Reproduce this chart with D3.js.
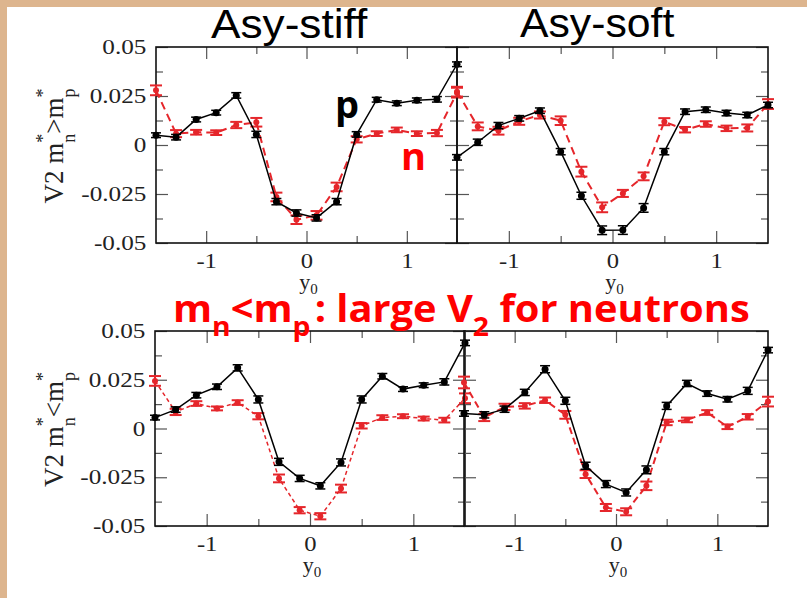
<!DOCTYPE html>
<html><head><meta charset="utf-8">
<script src="https://cdn.jsdelivr.net/npm/d3@7"></script>
<style>body{margin:0;background:#fff}svg{display:block}</style>
</head><body>
<svg id="chart" width="807" height="598"></svg>
<script>
// ---------- data ----------
const rapidity = [-1.5,-1.3,-1.1,-0.9,-0.7,-0.5,-0.3,-0.1,0.1,0.3,0.5,0.7,0.9,1.1,1.3,1.5];

// top-left: Asy-stiff, m*n > m*p
const stiffHeavyP = [0.005,0.004,0.013,0.0165,0.0253,0.0054,-0.0289,-0.0347,-0.0372,-0.0289,0.0054,0.0231,0.0213,0.0228,0.0233,0.0412];
const stiffHeavyN = [0.0279,0.0058,0.0065,0.0063,0.0102,0.0116,-0.0265,-0.0381,-0.0359,-0.0214,0.0029,0.0058,0.0077,0.0058,0.0061,0.0267];
const stiffHeavyPErr = [0.0012,0.0014,0.0012,0.0012,0.0014,0.0016,0.0016,0.0016,0.0016,0.0016,0.0014,0.0012,0.0012,0.0012,0.0014,0.0012];
const stiffHeavyNErr = [0.0025,0.0018,0.0012,0.0012,0.0016,0.0022,0.0022,0.0022,0.0022,0.0022,0.0016,0.0012,0.0012,0.0012,0.0016,0.0025];

// top-right: Asy-soft, m*n > m*p
const softHeavyP = [-0.0063,0.0014,0.0099,0.0136,0.0175,-0.0034,-0.0259,-0.0435,-0.0434,-0.0321,-0.0034,0.0170,0.0180,0.0163,0.0153,0.0204];
const softHeavyN = [0.0272,0.0095,0.0073,0.0121,0.0153,0.0124,-0.0136,-0.0318,-0.0247,-0.0160,0.0119,0.0078,0.0107,0.0085,0.0087,0.0209];
const softHeavyPErr = [0.0014,0.0016,0.0016,0.0014,0.0014,0.0016,0.0018,0.0022,0.0022,0.0022,0.0016,0.0014,0.0014,0.0014,0.0014,0.0014];
const softHeavyNErr = [0.0025,0.0020,0.0020,0.0018,0.0018,0.0022,0.0025,0.0025,0.0018,0.0020,0.0018,0.0014,0.0014,0.0014,0.0018,0.0025];

// bottom-left: Asy-stiff, m*n < m*p
const stiffLightP = [0.0056,0.0097,0.0171,0.0214,0.0311,0.0149,-0.0171,-0.0256,-0.0294,-0.0174,0.0149,0.0268,0.0202,0.0222,0.0239,0.0439];
const stiffLightN = [0.0244,0.0085,0.0128,0.0103,0.0133,0.0063,-0.0256,-0.0419,-0.0450,-0.0308,0.0014,0.0056,0.0063,0.0051,0.0043,0.0155];
const stiffLightPErr = [0.0012,0.0014,0.0014,0.0014,0.0016,0.0018,0.0018,0.0016,0.0016,0.0018,0.0018,0.0014,0.0012,0.0012,0.0016,0.0014];
const stiffLightNErr = [0.0025,0.0016,0.0012,0.0010,0.0012,0.0016,0.0020,0.0016,0.0016,0.0020,0.0014,0.0012,0.0010,0.0010,0.0012,0.0025];

// bottom-right: Asy-soft, m*n < m*p
const softLightP = [0.0077,0.0070,0.0099,0.0185,0.0304,0.0142,-0.0191,-0.0285,-0.0328,-0.0212,0.0116,0.0231,0.0179,0.0150,0.0193,0.0402];
const softLightN = [0.0236,0.0056,0.0111,0.0116,0.0145,0.0070,-0.0234,-0.0405,-0.0427,-0.0294,0.0031,0.0044,0.0082,0.0009,0.0060,0.0138];
const softLightPErr = [0.0014,0.0016,0.0016,0.0016,0.0018,0.0018,0.0018,0.0018,0.0018,0.0020,0.0018,0.0016,0.0014,0.0014,0.0018,0.0014];
const softLightNErr = [0.0030,0.0018,0.0016,0.0014,0.0014,0.0020,0.0020,0.0018,0.0018,0.0022,0.0014,0.0012,0.0012,0.0012,0.0014,0.0025];

const xMajorTicks = [-1, 0, 1];
const xMinorTicks = [-0.5, 0.5];
const xTickLabels = ["-1", "0", "1"];
const yMajorTicks = [0.05, 0.025, 0, -0.025, -0.05];
const yMinorTicks = [0.0375, 0.0125, -0.0125, -0.0375];
const yTickLabels = ["0.05", "0.025", "0", "-0.025", "-0.05"];
const columnTitles = ["Asy-stiff", "Asy-soft"];

// ---------- layout ----------
const svg = d3.select("#chart");
const tan = "#ddb58e";
const red = "#e5262b";
const serif = "Liberation Serif, Times New Roman, serif";
svg.append("rect").attr("width",807).attr("height",598).attr("fill","#fff");
svg.append("rect").attr("x",0).attr("y",0).attr("width",807).attr("height",7).attr("fill",tan);
svg.append("rect").attr("x",0).attr("y",0).attr("width",7).attr("height",598).attr("fill",tan);

const panels = [
  {x0:156, x1:457, y0:47, y1:243, p:stiffHeavyP, n:stiffHeavyN, pe:stiffHeavyPErr, ne:stiffHeavyNErr, left:true, rel:">", dash:"8,5", nw:2},
  {x0:457, x1:768, y0:47, y1:243, p:softHeavyP, n:softHeavyN, pe:softHeavyPErr, ne:softHeavyNErr, left:false, dash:"8,5", nw:2},
  {x0:155, x1:465, y0:331, y1:526, p:stiffLightP, n:stiffLightN, pe:stiffLightPErr, ne:stiffLightNErr, left:true, rel:"<", dash:"4,3", nw:1.5},
  {x0:464, x1:768, y0:331, y1:526, p:softLightP, n:softLightN, pe:softLightPErr, ne:softLightNErr, left:false, dash:"7,4", nw:2}
];

function stretch(sel, s){ sel.attr("transform", `scale(${s},1)`); }

panels.forEach(P => {
  const x = d3.scaleLinear().domain([-1.5,1.5]).range([P.x0,P.x1]);
  const y = d3.scaleLinear().domain([-0.05,0.05]).range([P.y1,P.y0]);
  const g = svg.append("g");

  const tickStyle = s => { s.select(".domain").remove(); s.selectAll(".tick line").attr("stroke","#555").attr("stroke-width",1.2); };
  const mk = (axis, tr) => g.append("g").attr("transform",tr).call(axis).call(tickStyle);

  const bot = mk(d3.axisBottom(x).tickValues(xMajorTicks).tickSizeInner(-12).tickPadding(9).tickFormat((d,i)=>xTickLabels[i]), `translate(0,${P.y1})`);
  bot.selectAll("text").attr("font-family",serif).attr("font-size",22).attr("fill","#222").call(stretch,1.12);
  mk(d3.axisBottom(x).tickValues(xMinorTicks).tickSizeInner(-7).tickFormat(""), `translate(0,${P.y1})`);
  mk(d3.axisTop(x).tickValues(xMajorTicks).tickSizeInner(-12).tickFormat(""), `translate(0,${P.y0})`);
  mk(d3.axisTop(x).tickValues(xMinorTicks).tickSizeInner(-7).tickFormat(""), `translate(0,${P.y0})`);

  const lft = mk(d3.axisLeft(y).tickValues(yMajorTicks).tickSizeInner(-12).tickPadding(8).tickFormat((d,i)=>P.left?yTickLabels[i]:""), `translate(${P.x0},0)`);
  lft.selectAll("text").attr("font-family",serif).attr("font-size",21).attr("fill","#222").call(stretch,1.2);
  mk(d3.axisLeft(y).tickValues(yMinorTicks).tickSizeInner(-7).tickFormat(""), `translate(${P.x0},0)`);
  mk(d3.axisRight(y).tickValues(yMajorTicks).tickSizeInner(-12).tickFormat(""), `translate(${P.x1},0)`);
  mk(d3.axisRight(y).tickValues(yMinorTicks).tickSizeInner(-7).tickFormat(""), `translate(${P.x1},0)`);

  g.append("rect").attr("x",P.x0).attr("y",P.y0).attr("width",P.x1-P.x0).attr("height",P.y1-P.y0)
    .attr("fill","none").attr("stroke","#111").attr("stroke-width",1.6);

  // x title y0
  const xt = g.append("text").attr("x", x(0)+2).attr("y", P.y1+46)
    .attr("font-family",serif).attr("font-size",22).attr("fill","#222").attr("text-anchor","middle");
  xt.append("tspan").text("y");
  xt.append("tspan").attr("font-size",15).attr("dy",5).text("0");

  // y title
  if (P.left) {
    const cy = (P.y0+P.y1)/2 + 1;
    const yt = g.append("text").attr("transform",`translate(63,${cy}) rotate(-90)`)
      .attr("font-family",serif).attr("font-size",27).attr("fill","#222").attr("text-anchor","middle");
    yt.append("tspan").text("V2 m");
    yt.append("tspan").attr("font-size",18).attr("dy",-14).text("*");
    yt.append("tspan").attr("font-size",18).attr("dx",-9).attr("dy",26).text("n");
    yt.append("tspan").attr("dy",-12).text(P.rel + "m");
    yt.append("tspan").attr("font-size",18).attr("dy",-14).text("*");
    yt.append("tspan").attr("font-size",18).attr("dx",-9).attr("dy",26).text("p");
  }

  // series
  const line = d3.line().x((d,i)=>x(rapidity[i])).y(d=>y(d));
  const drawSeries = (vals, errs, color, dash, w, capW, r) => {
    g.append("path").datum(vals).attr("d", line).attr("fill","none").attr("stroke",color)
      .attr("stroke-width",w).attr("stroke-dasharray",dash);
    const eb = g.append("g").attr("stroke",color).attr("stroke-width", color===red?2:1.5);
    vals.forEach((v,i)=>{
      const cx = x(rapidity[i]);
      eb.append("line").attr("x1",cx).attr("x2",cx).attr("y1",y(v-errs[i])).attr("y2",y(v+errs[i]));
      eb.append("line").attr("x1",cx-capW).attr("x2",cx+capW).attr("y1",y(v-errs[i])).attr("y2",y(v-errs[i]));
      eb.append("line").attr("x1",cx-capW).attr("x2",cx+capW).attr("y1",y(v+errs[i])).attr("y2",y(v+errs[i]));
    });
    g.append("g").selectAll("circle").data(vals).join("circle")
      .attr("cx",(d,i)=>x(rapidity[i])).attr("cy",d=>y(d)).attr("r",r).attr("fill",color);
  };
  drawSeries(P.n, P.ne, red, P.dash, P.nw, 6, 3);
  drawSeries(P.p, P.pe, "#000", null, 1.5, 5, 3.5);
});

// ---------- titles / annotations ----------
function fitWidth(sel, x0, w){
  const bw = sel.node().getBBox().width;
  const s = w / bw;
  sel.attr("transform", `translate(${x0},0) scale(${s},1) translate(${-x0},0)`);
}
[[columnTitles[0],211,157],[columnTitles[1],520,155]].forEach(([t,x0,w])=>{
  const tt = svg.append("text").attr("x",x0).attr("y",37.5).attr("font-family","Liberation Sans, Arial, sans-serif")
    .attr("font-size",41).attr("fill","#000").text(t);
  fitWidth(tt,x0,w);
});

svg.append("text").attr("x",335).attr("y",118).attr("font-family","Open Sans, sans-serif").attr("font-weight","bold")
  .attr("font-size",38).attr("fill","#000").text("p");
svg.append("text").attr("x",401).attr("y",170).attr("font-family","Open Sans, sans-serif").attr("font-weight","bold")
  .attr("font-size",38).attr("fill","#ff0000").text("n");

const big = svg.append("text").attr("x",173).attr("y",322).attr("font-family","Open Sans, sans-serif")
  .attr("font-weight","bold").attr("font-size",38).attr("fill","#ff0000");
big.append("tspan").text("m");
big.append("tspan").attr("font-size",27).attr("dy",14).text("n");
big.append("tspan").attr("dy",-14).text("<m");
big.append("tspan").attr("font-size",27).attr("dy",14).text("p");
big.append("tspan").attr("dy",-14).attr("dx",4).text(": large V");
big.append("tspan").attr("font-size",27).attr("dy",14).text("2");
big.append("tspan").attr("dy",-14).text(" for neutrons");
fitWidth(big,173,577);
</script>
</body></html>
